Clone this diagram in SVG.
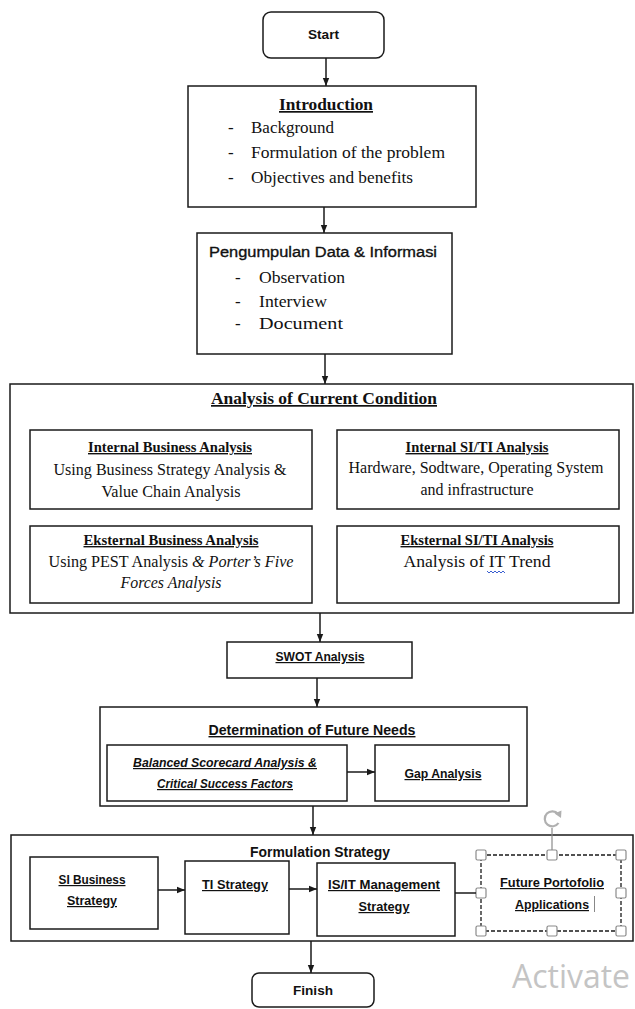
<svg xmlns="http://www.w3.org/2000/svg" width="635" height="1009" viewBox="0 0 635 1009">
<style>
.box{fill:#fff;stroke:#1a1a1a;stroke-width:1.5}
.ln{fill:none;stroke:#1a1a1a;stroke-width:1.5}
.serif{font-family:"Liberation Serif","Times New Roman",serif;fill:#111}
.sans{font-family:"Liberation Sans",Arial,sans-serif;fill:#111}
.b{font-weight:bold}
.i{font-style:italic}
.u{text-decoration:underline}
.c{text-anchor:middle}
.h{fill:#fff;stroke:#8a8a8a;stroke-width:1.2}
</style>
<defs>
<marker id="ah" markerWidth="8" markerHeight="8" viewBox="0 0 8 8" refX="8" refY="4" orient="auto" markerUnits="userSpaceOnUse">
<path d="M0,0.8 L8,4 L0,7.2 Z" fill="#1a1a1a"/>
</marker>
</defs>
<rect x="0" y="0" width="635" height="1009" fill="#fff"/>

<g id="connectors">
<line class="ln" x1="326" y1="58" x2="326" y2="86" marker-end="url(#ah)"/>
<line class="ln" x1="324" y1="207" x2="324" y2="233" marker-end="url(#ah)"/>
<line class="ln" x1="325" y1="354" x2="325" y2="384" marker-end="url(#ah)"/>
<line class="ln" x1="320" y1="613" x2="320" y2="642" marker-end="url(#ah)"/>
<line class="ln" x1="317" y1="678" x2="317" y2="707" marker-end="url(#ah)"/>
<line class="ln" x1="313" y1="806" x2="313" y2="835" marker-end="url(#ah)"/>
<line class="ln" x1="311" y1="941" x2="311" y2="973" marker-end="url(#ah)"/>
</g>

<g id="start">
<rect class="box" x="263" y="12" width="121" height="46" rx="8"/>
<text class="sans b c" x="323.5" y="39" font-size="13" textLength="31" lengthAdjust="spacingAndGlyphs">Start</text>
</g>

<g id="introduction">
<rect class="box" x="188" y="86" width="288" height="121"/>
<text class="serif b c u" x="326" y="110" font-size="17" textLength="94" lengthAdjust="spacingAndGlyphs">Introduction</text>
<g class="serif" font-size="17">
<text x="228" y="133">-</text><text x="251" y="133">Background</text>
<text x="228" y="158">-</text><text x="251" y="158" textLength="194" lengthAdjust="spacingAndGlyphs">Formulation of the problem</text>
<text x="228" y="183">-</text><text x="251" y="183" textLength="162" lengthAdjust="spacingAndGlyphs">Objectives and benefits</text>
</g>
</g>

<g id="pengumpulan">
<rect class="box" x="197" y="233" width="255" height="121"/>
<text class="sans" x="209" y="257" font-size="15.5" stroke="#111" stroke-width="0.35" textLength="228" lengthAdjust="spacingAndGlyphs">Pengumpulan Data &amp; Informasi</text>
<g class="serif" font-size="17">
<text x="235" y="283">-</text><text x="259" y="283" textLength="86" lengthAdjust="spacingAndGlyphs">Observation</text>
<text x="235" y="307">-</text><text x="259" y="307" textLength="68" lengthAdjust="spacingAndGlyphs">Interview</text>
<text x="235" y="329">-</text><text x="259" y="329" textLength="84" lengthAdjust="spacingAndGlyphs">Document</text>
</g>
</g>

<g id="analysis-current-condition">
<rect class="box" x="10" y="384" width="623" height="229"/>
<text class="serif b c u" x="324" y="404" font-size="17" textLength="226" lengthAdjust="spacingAndGlyphs">Analysis of Current Condition</text>
</g>

<g id="internal-business">
<rect class="box" x="30" y="430" width="282" height="79"/>
<text class="serif b c u" x="170" y="452" font-size="14" textLength="164" lengthAdjust="spacingAndGlyphs">Internal Business Analysis</text>
<text class="serif c" x="170" y="475" font-size="16" textLength="233" lengthAdjust="spacingAndGlyphs">Using Business Strategy Analysis &amp;</text>
<text class="serif c" x="171" y="497" font-size="16" textLength="139" lengthAdjust="spacingAndGlyphs">Value Chain Analysis</text>
</g>

<g id="internal-siti">
<rect class="box" x="337" y="430" width="282" height="79"/>
<text class="serif b c u" x="477" y="452" font-size="14" textLength="143" lengthAdjust="spacingAndGlyphs">Internal SI/TI Analysis</text>
<text class="serif c" x="476" y="473" font-size="16" textLength="255" lengthAdjust="spacingAndGlyphs">Hardware, Sodtware, Operating System</text>
<text class="serif c" x="477" y="495" font-size="16" textLength="113" lengthAdjust="spacingAndGlyphs">and infrastructure</text>
</g>

<g id="eksternal-business">
<rect class="box" x="30" y="526" width="282" height="77"/>
<text class="serif b c u" x="171" y="545" font-size="14" textLength="175" lengthAdjust="spacingAndGlyphs">Eksternal Business Analysis</text>
<text class="serif c" x="171" y="567" font-size="16" textLength="245" lengthAdjust="spacingAndGlyphs">Using PEST Analysis <tspan class="i">&amp; Porter’s Five</tspan></text>
<text class="serif c i" x="171" y="588" font-size="16" textLength="101" lengthAdjust="spacingAndGlyphs">Forces Analysis</text>
</g>

<g id="eksternal-siti">
<rect class="box" x="337" y="526" width="282" height="77"/>
<text class="serif b c u" x="477" y="545" font-size="14" textLength="153" lengthAdjust="spacingAndGlyphs">Eksternal SI/TI Analysis</text>
<text class="serif c" x="477" y="567" font-size="16" textLength="147" lengthAdjust="spacingAndGlyphs">Analysis of IT Trend</text>
<path d="M487,571 l2,2 l2,-2 l2,2 l2,-2 l2,2 l2,-2 l2,2 l2,-2 l2,2" fill="none" stroke="#3a5fd0" stroke-width="1"/>
</g>

<g id="swot">
<rect class="box" x="227" y="642" width="185" height="36"/>
<text class="sans b c u" x="320" y="661" font-size="12" textLength="89" lengthAdjust="spacingAndGlyphs">SWOT Analysis</text>
</g>

<g id="determination-future-needs">
<rect class="box" x="100" y="707" width="427" height="99"/>
<text class="sans b c u" x="312" y="735" font-size="14" textLength="207" lengthAdjust="spacingAndGlyphs">Determination of Future Needs</text>
</g>

<g id="balanced-scorecard">
<rect class="box" x="107" y="745" width="240" height="56"/>
<text class="sans b i c u" x="225" y="767" font-size="12" textLength="184" lengthAdjust="spacingAndGlyphs">Balanced Scorecard Analysis &amp;</text>
<text class="sans b i c u" x="225" y="788" font-size="12" textLength="136" lengthAdjust="spacingAndGlyphs">Critical Success Factors</text>
</g>

<g id="gap-analysis">
<rect class="box" x="375" y="745" width="134" height="56"/>
<text class="sans b c u" x="443" y="778" font-size="12" textLength="77" lengthAdjust="spacingAndGlyphs">Gap Analysis</text>
</g>

<g id="formulation-strategy">
<rect class="box" x="11" y="835" width="622" height="106"/>
<text class="sans b c" x="320" y="857" font-size="14" textLength="140" lengthAdjust="spacingAndGlyphs">Formulation Strategy</text>
</g>

<g id="si-business-strategy">
<rect class="box" x="30" y="857" width="128" height="72"/>
<text class="sans b c u" x="92" y="884" font-size="12" textLength="67" lengthAdjust="spacingAndGlyphs">SI Business</text>
<text class="sans b c u" x="92" y="905" font-size="12" textLength="50" lengthAdjust="spacingAndGlyphs">Strategy</text>
</g>

<g id="ti-strategy">
<rect class="box" x="185" y="861" width="104" height="73"/>
<text class="sans b c u" x="235" y="889" font-size="12" textLength="66" lengthAdjust="spacingAndGlyphs">TI Strategy</text>
</g>

<g id="isit-management-strategy">
<rect class="box" x="317" y="863" width="138" height="73"/>
<text class="sans b c u" x="384" y="889" font-size="12" textLength="112" lengthAdjust="spacingAndGlyphs">IS/IT Management</text>
<text class="sans b c u" x="384" y="911" font-size="12" textLength="51" lengthAdjust="spacingAndGlyphs">Strategy</text>
</g>

<g id="future-portofolio">
<rect x="481" y="855" width="140" height="76" fill="#fff" stroke="#1a1a1a" stroke-width="1.3" stroke-dasharray="4 2"/>
<text class="sans b c u" x="552" y="887" font-size="12" textLength="104" lengthAdjust="spacingAndGlyphs">Future Portofolio</text>
<text class="sans b c u" x="552" y="909" font-size="12" textLength="74" lengthAdjust="spacingAndGlyphs">Applications</text>
<line x1="594.5" y1="896" x2="594.5" y2="912" stroke="#888" stroke-width="1"/>
<line x1="552" y1="828" x2="552" y2="851" stroke="#8a8a8a" stroke-width="1.2"/>
<path d="M558.5,823 A7.5,7.5 0 1 1 558,814" fill="none" stroke="#b0b0b0" stroke-width="2.2"/>
<path d="M554.5,813.5 L561.5,810.5 L561,818 Z" fill="#b0b0b0"/>
<g class="h">
<rect x="476" y="850" width="10" height="10" rx="1.5"/>
<rect x="547" y="850" width="10" height="10" rx="1.5"/>
<rect x="616" y="850" width="10" height="10" rx="1.5"/>
<rect x="476" y="888" width="10" height="10" rx="1.5"/>
<rect x="616" y="888" width="10" height="10" rx="1.5"/>
<rect x="476" y="926" width="10" height="10" rx="1.5"/>
<rect x="547" y="926" width="10" height="10" rx="1.5"/>
<rect x="616" y="926" width="10" height="10" rx="1.5"/>
</g>
</g>

<g id="inner-connectors">
<line class="ln" x1="347" y1="772" x2="375" y2="772" marker-end="url(#ah)"/>
<line class="ln" x1="158" y1="890" x2="185" y2="890" marker-end="url(#ah)"/>
<line class="ln" x1="289" y1="889" x2="317" y2="889" marker-end="url(#ah)"/>
<line class="ln" x1="455" y1="893" x2="476" y2="893"/>
</g>

<g id="finish">
<rect class="box" x="252" y="973" width="122" height="34" rx="7"/>
<text class="sans b c" x="313" y="995" font-size="13" textLength="40" lengthAdjust="spacingAndGlyphs">Finish</text>
</g>

<text x="512" y="988" font-family="'Open Sans','Noto Sans',sans-serif" font-size="33" fill="#c4c4c4" textLength="118" lengthAdjust="spacingAndGlyphs">Activate</text>
</svg>
